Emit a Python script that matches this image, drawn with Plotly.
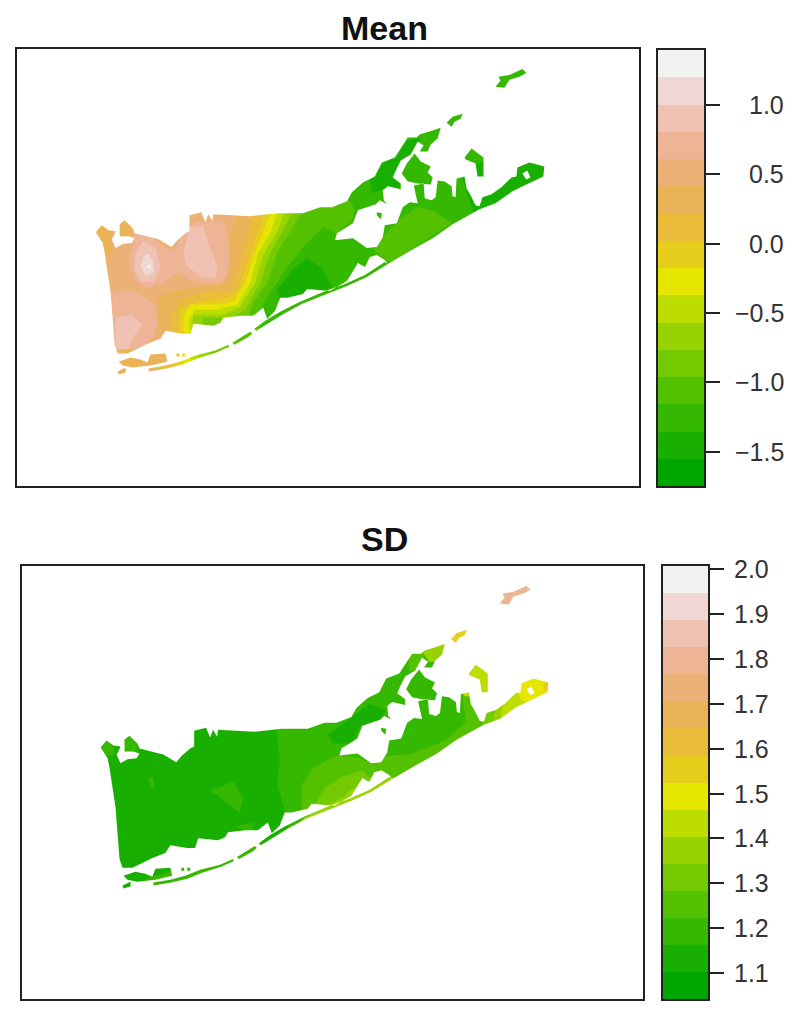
import plotly.graph_objects as go

# ---- palette and legend scales ----
band_colors = ["#00A600", "#19AF00", "#35B800", "#53C100", "#74CA00", "#97D300", "#BDDC00", "#E6E600",
               "#E7CE1D", "#E9BD3A", "#EAB358", "#ECB176", "#EDB595", "#EFC2B3", "#F1D7D3", "#F2F2F2"]
mean_ticks = [-1.5, -1.0, -0.5, 0.0, 0.5, 1.0]
mean_tick_labels = ["\u22121.5", "\u22121.0", "\u22120.5", "0.0", "0.5", "1.0"]
mean_range = [-1.748, 1.397]
sd_ticks = [1.1, 1.2, 1.3, 1.4, 1.5, 1.6, 1.7, 1.8, 1.9, 2.0]
sd_tick_labels = ["1.1", "1.2", "1.3", "1.4", "1.5", "1.6", "1.7", "1.8", "1.9", "2.0"]
sd_range = [1.042, 2.0074]

# ---- land outlines (map units) ----
main_land = [(95,232),(101,225),(108,230),(115,231),(113,236),(111,239),(115,248),(122,244),(131,243),(134,238),(128,236),
    (119,236),(119,224),(124,220),(132,228),(134,233),(138,234),(146,236),(158,239),(171,247),(176,241),(185,233),(189,231),(189,215),
    (201,212),(205,222),(208,214),(212,221),(213,214),(250,216),(277,213),(303,213),(320,207),(332,207),(347,201),
    (352,192),(363,182),(375,176),(382,162),(395,157),(408,137),(417,137),(420,134),(432,130),(441,127),(438,138),
    (431,144),(428,151),(420,151),(424,145),(418,141),(411,154),(401,160),(396,170),(393,177),(401,183),(401,189),
    (388,186),(383,190),(384,200),(387,204),(380,200),(376,204),(358,210),(353,223),(337,233),(335,240),(353,238),(367,248),
    (377,247),(383,237),(385,225),(397,223),(403,207),(410,202),(418,203),(414,185),(424,183),(425,198),(432,200),
    (436,197),(438,180),(445,181),(452,186),(453,196),(456,197),(457,178),(465,176),(467,188),(471,195),(476,205),(480,206),(483,197),(492,194),
    (502,187),(512,177),(517,176),(518,167),(530,162),(545,166),(544,176),(527,184),(513,191),(496,203),(480,209),(453,224),(433,238),
    (410,251),(388,264),(385,260),(377,255),(370,257),(365,267),(358,263),(347,281),(330,291),(307,289),(303,294),
    (287,298),(280,298),(275,311),(267,319),(263,308),(253,316),(240,316),(223,318),(220,323),(213,326),(193,324),
    (190,334),(182,334),(165,331),(160,339),(147,344),(127,354),(117,354),(114,345),(110,293),(104,253),(102,243)]
fishers_island = [(496,86),(501,80),(499,76),(510,74),(523,68),(527,72),(520,76),(510,79),(505,87)]
plum_island = [(447,122),(453,116),(463,113),(461,118),(455,121),(452,126)]
gardiners_island = [(465,157),(472,148),(484,157),(484,176),(478,176),(476,163),(466,159)]
robins_island = [(377,212),(382,213),(381,219),(377,215)]
shelter_island = [(402,173),(407,163),(415,153),(421,161),(431,166),(428,172),(433,177),(431,184),(418,183),(408,181)]
west_barrier = [(118,362),(130,358),(140,360),(147,363),(150,355),(165,354),(167,362),(150,366),(132,368),(122,366)]
west_barrier_b = [(117,372),(125,368),(125,373),(118,375)]
tiny_isle_a = [(176,354),(179,354),(179,357),(176,357)]
tiny_isle_b = [(182,354),(185,354),(185,357),(182,357)]
outer_strip_a = [(148,369),(165,366),(180,362),(195,356),(215,351),(228,345),(229,347),(216,353),(197,359),(182,365),
    (166,369),(148,372)]
outer_strip_b = [(232,343),(245,335),(250,332),(252,334),(247,338),(234,345)]
outer_strip_c = [(254,329),(265,321),(280,312),(300,302),(323,292),(345,284),(365,275),(385,262),(388,264),(367,277),
    (347,286),(325,295),(302,304),(282,315),(267,324),(256,331)]
montauk_pond = [(523,173),(528,170),(531,177),(527,179)]
land_parts = [main_land, fishers_island, plum_island, gardiners_island, robins_island, shelter_island,
              west_barrier, west_barrier_b, tiny_isle_a, tiny_isle_b, outer_strip_a, outer_strip_b, outer_strip_c]
water_rect = [(0,30),(660,30),(660,500),(0,500)]

# ---- Mean surface: value bands ----
mean_sw_ring = [(112,293),(130,290),(153,303),(158,323),(153,337),(140,350),(115,355),(112,323)]
mean_sw_core = [(115,318),(130,315),(142,325),(133,337),(127,353),(115,353)]
mean_mid_ring = [(133,233),(147,233),(162,247),(173,250),(187,227),(197,222),(223,220),(228,243),(230,278),(217,285),
    (190,280),(177,273),(160,285),(147,288),(133,280),(128,260),(132,243)]
mean_mid_core = [(190,227),(202,225),(208,243),(217,267),(215,278),(202,278),(185,265),(183,253),(188,233)]
mean_peak_ring = [(143,240),(155,248),(160,267),(153,282),(140,282),(133,268),(135,252)]
mean_peak_core = [(147,253),(153,262),(153,273),(145,276),(140,267),(142,258)]
mean_peak_top = [(147,265),(150,265),(150,268),(147,268)]
mean_west_tip = [(90,220),(112,220),(110,240),(112,255),(100,258),(90,250)]
mean_second_neck = [(118,218),(134,218),(132,237),(117,238)]
contour_a = [(237,210),(230,237),(228,273),(223,283),(200,287),(177,290),(157,297),(157,323),(162,333),(145,385)]
contour_b = [(253,210),(247,237),(238,270),(230,290),(200,293),(180,300),(170,317),(173,337),(147,385)]
contour_c = [(265,210),(257,233),(247,263),(238,290),(227,298),(197,302),(180,310),(178,337),(173,375)]
contour_d = [(272,210),(263,233),(253,257),(245,283),(233,302),(217,305),(190,305),(183,317),(183,337),(183,372)]
contour_e = [(278,210),(270,233),(258,253),(250,283),(237,305),(217,310),(195,310),(188,320),(190,337),(190,368)]
contour_f = [(285,210),(277,232),(263,255),(255,283),(240,307),(223,315),(193,315),(192,322),(200,365)]
contour_g = [(293,210),(282,232),(270,253),(260,283),(245,310),(230,318),(203,318),(200,330),(213,362)]
contour_h = [(303,210),(290,232),(277,253),(267,283),(253,303),(247,323),(230,352)]
contour_i = [(348,197),(355,210),(352,220),(337,233),(323,227),(303,247),(287,267),(273,290),(263,305),(263,323),(250,340)]
mean_low_core = [(277,290),(293,270),(307,258),(323,270),(333,287),(307,297),(280,303)]
mean_fork_dark = [(370,180),(383,163),(397,157),(407,140),(420,137),(420,143),(403,163),(400,188),(387,188),(372,193)]
mean_east_dark = [(460,170),(560,130),(560,230),(475,215)]
mean_fork_lens = [(373,250),(395,223),(417,207),(433,210),(452,223),(390,263)]
mean_barrier_patch = [(110,350),(168,350),(168,363),(140,367),(110,380)]
big_corner = [(620,470),(620,55)]

# ---- SD surface: value bands ----
sd_base = [(0,30),(660,30),(660,500),(0,500)]
sd_contour_east = [(272,218),(275,245),(272,268),(280,295),(283,312),(283,340),(620,340),(620,50),(272,50)]
sd_north_dark = [(323,219),(348,201),(365,188),(382,194),(375,204),(355,211),(348,228),(328,228)]
sd_mid_patch = [(205,275),(228,267),(238,283),(235,298)]
sd_small_patch = [(143,263),(148,262),(149,273),(145,273)]
sd_west_tip = [(90,220),(108,220),(108,240),(90,240)]
sd_neck = [(118,218),(132,218),(132,236),(118,236)]
sd_south_patch = [(228,312),(250,308),(247,317)]
sd_strip_west = [(140,385),(262,345),(262,328),(215,342),(165,358),(140,365)]
sd_band_53 = [(297,285),(297,270),(308,253),(332,240),(352,242),(368,248),(382,241),(408,238),(442,225),(462,206),
    (458,177),(470,170),(560,140),(560,300),(400,300),(297,300)]
sd_band_74 = [(310,290),(320,273),(337,262),(358,255),(368,265),(372,285),(320,300)]
sd_band_97 = [(320,292),(337,285),(345,275),(365,268),(372,285),(330,300)]
sd_strip_east = [(288,316),(300,303),(345,279),(375,263),(392,263),(340,300)]
sd_east_74 = [(478,205),(478,190),(490,170),(560,170),(560,240),(490,240)]
sd_east_97 = [(490,205),(492,190),(500,170),(560,150),(560,240)]
sd_east_bd = [(497,200),(499,190),(506,175),(560,150),(560,240)]
sd_east_e6 = [(518,185),(514,175),(516,160),(560,150),(560,190)]
sd_fork_end = [(420,125),(445,125),(445,145),(425,145),(418,135)]
sd_fork_mid = [(405,136),(420,136),(420,150),(405,155)]
sd_gardiners = [(460,145),(490,145),(490,180),(460,180)]
sd_plum = [(440,110),(470,110),(470,130),(440,130)]
sd_fishers = [(490,60),(535,60),(535,95),(490,95)]
sd_tip = [(540,160),(560,160),(560,175),(540,175)]

mean_layers = [(sd_base, 11), (mean_mid_ring, 12), (mean_mid_core, 13), (mean_sw_ring, 12), (mean_sw_core, 13),
    (mean_peak_ring, 13), (mean_peak_core, 14), (mean_peak_top, 15),
    (mean_west_tip, 10), (mean_second_neck, 10),
    (contour_a + big_corner + [(237,55)], 10), (contour_b + big_corner + [(253,55)], 9),
    (contour_c + big_corner + [(265,55)], 8), (contour_d + big_corner + [(272,55)], 7),
    (contour_e + big_corner + [(278,55)], 6), (contour_f + big_corner + [(285,55)], 5),
    (contour_g + big_corner + [(293,55)], 4), (contour_h + big_corner + [(303,55)], 3),
    (contour_i + big_corner + [(348,55)], 2), (mean_low_core, 1), (mean_fork_dark, 1), (mean_east_dark, 1),
    (mean_fork_lens, 3), (mean_barrier_patch, 10)]
sd_layers = [(sd_base, 1), (sd_contour_east, 2), (sd_north_dark, 1), (sd_mid_patch, 2), (sd_small_patch, 2),
    (sd_west_tip, 2), (sd_neck, 2), (sd_south_patch, 2), (sd_strip_west, 2), (sd_band_53, 3), (sd_band_74, 4),
    (sd_band_97, 5), (sd_strip_east, 5), (sd_east_74, 4), (sd_east_97, 5), (sd_east_bd, 6), (sd_east_e6, 7),
    (sd_tip, 8), (sd_fork_mid, 3), (sd_fork_end, 5), (sd_gardiners, 6), (sd_plum, 8), (sd_fishers, 12)]

W, H = 800, 1018
FRAME = "#222222"
fig = go.Figure()


def signed_area(p):
    return sum(p[i][0] * p[(i + 1) % len(p)][1] - p[(i + 1) % len(p)][0] * p[i][1] for i in range(len(p)))


def poly(points, color, xa, ya):
    xs = [p[0] for p in points] + [points[0][0]]
    ys = [p[1] for p in points] + [points[0][1]]
    fig.add_trace(go.Scatter(x=xs, y=ys, mode="lines", fill="toself", fillcolor=color, line=dict(width=0),
                             hoverinfo="skip", showlegend=False, xaxis=xa, yaxis=ya))


def water(xa, ya):
    xs, ys = [], []
    rect_sign = signed_area(water_rect) > 0
    for i, part in enumerate([water_rect] + land_parts):
        pts = list(part)
        if i > 0 and (signed_area(pts) > 0) == rect_sign:
            pts = pts[::-1]
        xs += [p[0] for p in pts] + [pts[0][0], None]
        ys += [p[1] for p in pts] + [pts[0][1], None]
    fig.add_trace(go.Scatter(x=xs[:-1], y=ys[:-1], mode="lines", fill="toself", fillcolor="white",
                             line=dict(width=0), hoverinfo="skip", showlegend=False, xaxis=xa, yaxis=ya))


def domain(a, b, total):
    return [a / total, b / total]


def ydomain(top, bottom):
    return [1 - bottom / H, 1 - top / H]


panels = [
    dict(layers=mean_layers, ax="x", ay="y", bx="x2", by="y2", box=(17, 639, 49, 486), bar=(658, 704, 50, 486),
         rng=mean_range, ticks=mean_ticks, labels=mean_tick_labels, label_right=786, title="Mean", title_y=28),
    dict(layers=sd_layers, ax="x3", ay="y3", bx="x4", by="y4", box=(22, 643, 566, 999), bar=(663, 708, 566, 999),
         rng=sd_range, ticks=sd_ticks, labels=sd_tick_labels, label_right=771, title="SD", title_y=539),
]
layout = {}
annotations = []
for p in panels:
    for pts, idx in p["layers"]:
        poly(pts, band_colors[idx], p["ax"], p["ay"])
    water(p["ax"], p["ay"])
    poly(montauk_pond, "white", p["ax"], p["ay"])

    lo, hi = p["rng"]
    step = (hi - lo) / 16
    centers = [lo + step * (i + 0.5) for i in range(16)]
    scale = []
    for i, c in enumerate(band_colors):
        scale += [[i / 16, c], [(i + 1) / 16, c]]
    fig.add_trace(go.Heatmap(x=[0], y=centers, z=[[i] for i in range(16)], zmin=-0.5, zmax=15.5, colorscale=scale,
                             showscale=False, hoverinfo="skip", xaxis=p["bx"], yaxis=p["by"]))

    def k(name):
        return name[0] + "axis" + name[1:]

    x0, x1, y0, y1 = p["box"]
    frame = dict(showline=True, mirror=True, linecolor=FRAME, linewidth=2, showgrid=False, zeroline=False,
                 showticklabels=False, ticks="")
    layout[k(p["ax"])] = dict(frame, domain=domain(x0, x1, W), range=[16, 640], anchor=p["ay"])
    layout[k(p["ay"])] = dict(frame, domain=ydomain(y0, y1), range=[487, 48], anchor=p["ax"])
    bx0, bx1, by0, by1 = p["bar"]
    layout[k(p["bx"])] = dict(frame, domain=domain(bx0, bx1, W), range=[-0.5, 0.5], anchor=p["by"])
    layout[k(p["by"])] = dict(frame, domain=ydomain(by0, by1), range=[lo, hi], anchor=p["bx"], side="right",
                              tickmode="array", tickvals=p["ticks"], ticktext=[""] * len(p["ticks"]),
                              showticklabels=True, ticks="outside", ticklen=14, tickwidth=2, tickcolor=FRAME)
    for v, t in zip(p["ticks"], p["labels"]):
        annotations.append(dict(text=t, x=p["label_right"] / W, xref="paper", xanchor="right", y=v,
                                yref=p["by"], yanchor="middle", showarrow=False,
                                font=dict(family="Liberation Sans", size=25, color="#333333")))
    annotations.append(dict(text="<b>" + p["title"] + "</b>", x=384 / W, xref="paper", xanchor="center",
                            y=1 - p["title_y"] / H, yref="paper", yanchor="middle", showarrow=False,
                            font=dict(family="Liberation Sans", size=34, color="#111111")))

fig.update_layout(width=W, height=H, margin=dict(l=0, r=0, t=0, b=0), paper_bgcolor="white", plot_bgcolor="white",
                  showlegend=False, annotations=annotations, **layout)
fig.write_html("out.html", config={"displayModeBar": False}, post_script="document.body.style.margin='0';")
